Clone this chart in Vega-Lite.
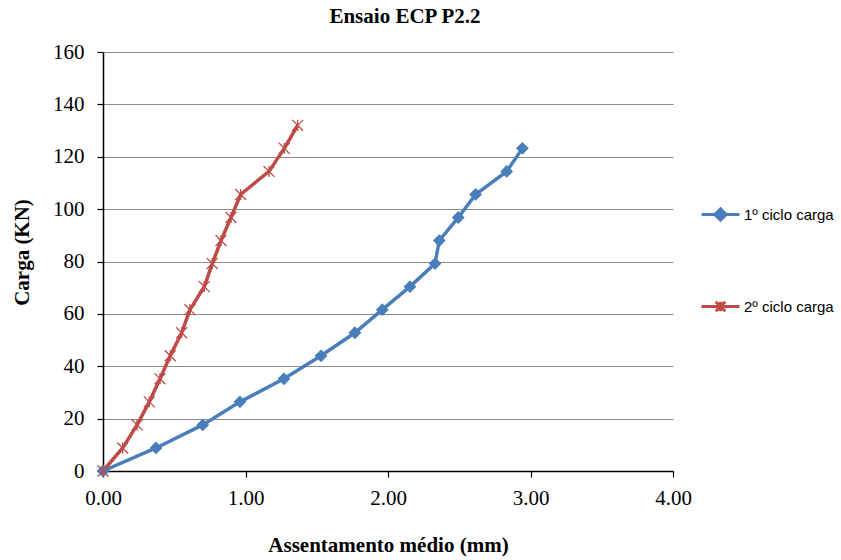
{
  "$schema": "https://vega.github.io/schema/vega-lite/v6.json",
  "width": 570,
  "height": 419,
  "autosize": {"type": "none"},
  "padding": {"left": 103, "top": 52, "right": 168, "bottom": 89},
  "background": "white",
  "title": {"text": "Ensaio ECP P2.2", "font": "Liberation Serif", "fontSize": 21, "fontWeight": "bold", "color": "black", "anchor": "middle", "dx": 17, "offset": 14},
  "config": {
    "view": {"stroke": null},
    "axis": {"labelFont": "Liberation Serif", "labelFontSize": 21, "labelColor": "black", "titleFont": "Liberation Serif", "titleFontSize": 21, "titleFontWeight": "bold", "titleColor": "black", "domainColor": "black", "domainWidth": 1.5, "tickColor": "black", "tickWidth": 1.2, "tickSize": 6},
    "legend": {"orient": "none", "legendX": 597, "legendY": 142, "symbolSize": 1444, "symbolOpacity": 1, "symbolStrokeWidth": 3, "labelFont": "Liberation Sans", "labelFontSize": 15, "labelColor": "black", "labelOffset": 3, "rowPadding": 59}
  },
  "data": {"values": [
    {"series": "1º ciclo carga", "k": 0, "x": 0, "y": 0},
    {"series": "1º ciclo carga", "k": 1, "x": 0.372, "y": 8.8},
    {"series": "1º ciclo carga", "k": 2, "x": 0.70, "y": 17.6},
    {"series": "1º ciclo carga", "k": 3, "x": 0.961, "y": 26.4},
    {"series": "1º ciclo carga", "k": 4, "x": 1.27, "y": 35.2},
    {"series": "1º ciclo carga", "k": 5, "x": 1.53, "y": 44},
    {"series": "1º ciclo carga", "k": 6, "x": 1.768, "y": 52.8},
    {"series": "1º ciclo carga", "k": 7, "x": 1.96, "y": 61.6},
    {"series": "1º ciclo carga", "k": 8, "x": 2.154, "y": 70.4},
    {"series": "1º ciclo carga", "k": 9, "x": 2.33, "y": 79.2},
    {"series": "1º ciclo carga", "k": 10, "x": 2.36, "y": 88},
    {"series": "1º ciclo carga", "k": 11, "x": 2.493, "y": 96.8},
    {"series": "1º ciclo carga", "k": 12, "x": 2.615, "y": 105.6},
    {"series": "1º ciclo carga", "k": 13, "x": 2.833, "y": 114.4},
    {"series": "1º ciclo carga", "k": 14, "x": 2.943, "y": 123.2},
    {"series": "2º ciclo carga", "k": 0, "x": 0, "y": 0},
    {"series": "2º ciclo carga", "k": 1, "x": 0.138, "y": 8.8},
    {"series": "2º ciclo carga", "k": 2, "x": 0.239, "y": 17.6},
    {"series": "2º ciclo carga", "k": 3, "x": 0.325, "y": 26.4},
    {"series": "2º ciclo carga", "k": 4, "x": 0.40, "y": 35.2},
    {"series": "2º ciclo carga", "k": 5, "x": 0.472, "y": 44},
    {"series": "2º ciclo carga", "k": 6, "x": 0.552, "y": 52.8},
    {"series": "2º ciclo carga", "k": 7, "x": 0.61, "y": 61.6},
    {"series": "2º ciclo carga", "k": 8, "x": 0.711, "y": 70.4},
    {"series": "2º ciclo carga", "k": 9, "x": 0.767, "y": 79.2},
    {"series": "2º ciclo carga", "k": 10, "x": 0.828, "y": 88},
    {"series": "2º ciclo carga", "k": 11, "x": 0.898, "y": 96.8},
    {"series": "2º ciclo carga", "k": 12, "x": 0.966, "y": 105.6},
    {"series": "2º ciclo carga", "k": 13, "x": 1.165, "y": 114.4},
    {"series": "2º ciclo carga", "k": 14, "x": 1.272, "y": 123.2},
    {"series": "2º ciclo carga", "k": 15, "x": 1.366, "y": 132}
  ]},
  "encoding": {
    "x": {"field": "x", "type": "quantitative", "scale": {"domain": [0, 4], "nice": false}, "axis": {"values": [0, 1, 2, 3, 4], "format": ".2f", "grid": false, "labelFlush": false, "title": "Assentamento médio (mm)", "labelPadding": 10, "titlePadding": 26}},
    "y": {"field": "y", "type": "quantitative", "scale": {"domain": [0, 160], "nice": false}, "axis": {"values": [0, 20, 40, 60, 80, 100, 120, 140, 160], "grid": true, "gridColor": "#8c8c8c", "gridWidth": 1.2, "labelFlush": false, "title": "Carga (KN)", "titleY": 200, "labelPadding": 13, "titlePadding": 20}}
  },
  "resolve": {"scale": {"shape": "independent", "stroke": "independent", "fill": "independent"}},
  "layer": [
    {
      "mark": {"type": "line", "strokeWidth": 3.5},
      "encoding": {
        "color": {"field": "series", "type": "nominal", "scale": {"domain": ["1º ciclo carga", "2º ciclo carga"], "range": ["#4a7ebb", "#be4b48"]}, "legend": null},
        "order": {"field": "k", "type": "quantitative"}
      }
    },
    {
      "mark": {"type": "point", "filled": false, "opacity": 1, "size": 120, "strokeWidth": 1.3},
      "encoding": {
        "stroke": {"field": "series", "type": "nominal", "scale": {"domain": ["1º ciclo carga", "2º ciclo carga"], "range": ["#4a7ebb", "#be4b48"]}, "legend": null},
        "fill": {"field": "series", "type": "nominal", "scale": {"domain": ["1º ciclo carga", "2º ciclo carga"], "range": ["#4a7ebb", "transparent"]}, "legend": null},
        "shape": {"field": "series", "type": "nominal", "scale": {"domain": ["1º ciclo carga", "2º ciclo carga"], "range": ["M0,-1L1,0L0,1L-1,0Z", "M-1,-1L1,1M-1,1L1,-1M0,-1L0,1"]}, "legend": null}
      }
    },
    {
      "mark": {"type": "point", "opacity": 0, "filled": true},
      "encoding": {
        "stroke": {"field": "series", "type": "nominal", "title": null, "scale": {"domain": ["1º ciclo carga", "2º ciclo carga"], "range": ["#4a7ebb", "#be4b48"]}, "legend": {"title": null}},
        "fill": {"field": "series", "type": "nominal", "title": null, "scale": {"domain": ["1º ciclo carga", "2º ciclo carga"], "range": ["#4a7ebb", "transparent"]}, "legend": {"title": null}},
        "shape": {"field": "series", "type": "nominal", "title": null, "scale": {"domain": ["1º ciclo carga", "2º ciclo carga"], "range": ["M-1,0L1,0M0,-0.3L0.3,0L0,0.3L-0.3,0Z", "M-1,0L1,0M-0.25,-0.25L0.25,0.25M-0.25,0.25L0.25,-0.25M0,-0.25L0,0.25"]}, "legend": {"title": null}}
      }
    }
  ]
}
